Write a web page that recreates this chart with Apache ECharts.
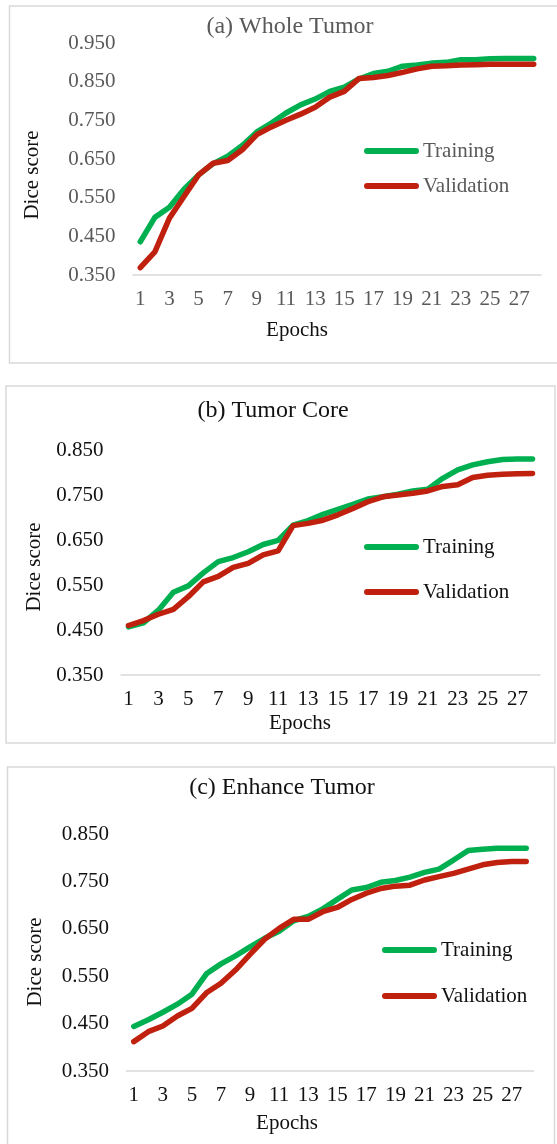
<!DOCTYPE html>
<html>
<head>
<meta charset="utf-8">
<script src="https://cdn.jsdelivr.net/npm/echarts@6/dist/echarts.min.js"></script>
<style>
  html, body { margin: 0; padding: 0; background: #fff; }
  #main { width: 557px; height: 1144px; }
</style>
</head>
<body>
<div id="main"></div>
<script>
// epochs 1..28
var epochs = ['1','2','3','4','5','6','7','8','9','10','11','12','13','14','15','16','17','18','19','20','21','22','23','24','25','26','27','28'];

// (a) Whole Tumor
var wtTrain = [0.436,0.499,0.525,0.572,0.609,0.638,0.657,0.685,0.720,0.743,0.769,0.790,0.805,0.825,0.836,0.857,0.871,0.877,0.890,0.893,0.898,0.900,0.907,0.907,0.909,0.910,0.910,0.910];
var wtVal   = [0.369,0.410,0.497,0.553,0.609,0.639,0.646,0.674,0.713,0.733,0.750,0.766,0.784,0.810,0.825,0.858,0.861,0.866,0.874,0.883,0.890,0.891,0.893,0.894,0.895,0.895,0.895,0.895];

// (b) Tumor Core
var tcTrain = [0.457,0.466,0.494,0.534,0.548,0.577,0.602,0.611,0.624,0.640,0.649,0.683,0.693,0.707,0.718,0.729,0.741,0.746,0.752,0.759,0.763,0.787,0.806,0.817,0.824,0.829,0.830,0.830];
var tcVal   = [0.460,0.471,0.485,0.496,0.524,0.557,0.569,0.589,0.598,0.617,0.626,0.682,0.687,0.694,0.706,0.720,0.735,0.746,0.750,0.754,0.759,0.769,0.773,0.789,0.794,0.796,0.797,0.798];

// (c) Enhance Tumor
var etTrain = [0.444,0.458,0.474,0.491,0.512,0.555,0.576,0.593,0.612,0.630,0.645,0.667,0.676,0.692,0.712,0.732,0.737,0.748,0.752,0.759,0.769,0.776,0.795,0.815,0.818,0.820,0.820,0.820];
var etVal   = [0.412,0.433,0.445,0.466,0.482,0.515,0.535,0.563,0.596,0.628,0.651,0.670,0.670,0.686,0.695,0.712,0.725,0.735,0.740,0.742,0.753,0.760,0.767,0.776,0.785,0.790,0.792,0.792];

var titles = ['(a) Whole Tumor', '(b) Tumor Core', '(c) Enhance Tumor'];
var yMax = [0.95, 0.85, 0.85];

var FONT = "'Liberation Serif','Times New Roman',serif";
var GREEN = '#00b050', RED = '#c0200e';

// layout of the three panels
var panels = [
    {grid:{left:133, top:43, width:408, height:232}, txt:'#595959', box:[9.5,6,560,357],
     title:[290,27], xname:[297,330], yname:[32,175], leg:[364,151,186]},
    {grid:{left:121, top:450, width:419, height:225}, txt:'#111', box:[6,386,549,357],
     title:[273,411], xname:[300,723], yname:[34,567], leg:[364,547,592]},
    {grid:{left:126.5, top:834, width:407, height:237}, txt:'#111', box:[7.5,767,547,400],
     title:[282,788], xname:[287,1123], yname:[35,962], leg:[382,950,996]}
];
var trainData = [wtTrain, tcTrain, etTrain];
var valData = [wtVal, tcVal, etVal];

var myChart = echarts.init(document.getElementById('main'));

var grids = [], xAxes = [], yAxes = [], series = [], legends = [], graphics = [];
var legIcon = 'path://M3,0 L52,0 A3,3 0 0 1 52,6 L3,6 A3,3 0 0 1 3,0 Z';

panels.forEach(function (p, i) {
    grids.push(p.grid);
    xAxes.push({
        type: 'category', gridIndex: i, data: epochs, boundaryGap: true,
        axisLine: {lineStyle: {color: '#d9d9d9', width: 1.5}},
        axisTick: {show: false},
        axisLabel: {interval: 1, margin: 14, color: p.txt, fontSize: 21, fontFamily: FONT}
    });
    yAxes.push({
        type: 'value', gridIndex: i, min: 0.35, max: yMax[i], interval: 0.1,
        axisLine: {show: false}, axisTick: {show: false}, splitLine: {show: false},
        axisLabel: {margin: 17.5, color: p.txt, fontSize: 21, fontFamily: FONT,
            formatter: function (v) { return v.toFixed(3); }}
    });
    series.push({
        name: 'Training', type: 'line', xAxisIndex: i, yAxisIndex: i, data: trainData[i],
        symbol: 'none', z: 2,
        lineStyle: {color: GREEN, width: 5.5, cap: 'round', join: 'round'}, itemStyle: {color: GREEN}
    });
    series.push({
        name: 'Validation', type: 'line', xAxisIndex: i, yAxisIndex: i, data: valData[i],
        symbol: 'none', z: 3,
        lineStyle: {color: RED, width: 5.5, cap: 'round', join: 'round'}, itemStyle: {color: RED}
    });
    ['Training', 'Validation'].forEach(function (nm, k) {
        legends.push({
            data: [{name: nm, icon: legIcon, itemStyle: {color: k === 0 ? GREEN : RED}}],
            left: p.leg[0], top: p.leg[k + 1] - 10.5, padding: 0,
            itemWidth: 55, itemHeight: 6, selectedMode: false,
            textStyle: {fontSize: 21, lineHeight: 21, fontFamily: FONT, color: p.txt, padding: [0, 0, 0, -1]}
        });
    });
    graphics.push({
        type: 'rect', silent: true, z: -1,
        shape: {x: p.box[0], y: p.box[1], width: p.box[2], height: p.box[3]},
        style: {fill: 'none', stroke: '#d9d9d9', lineWidth: 1.5}
    });
    graphics.push({
        type: 'text', x: p.title[0], y: p.title[1],
        style: {text: titles[i], font: '24px ' + FONT, fill: p.txt, textAlign: 'center', textVerticalAlign: 'middle'}
    });
    graphics.push({
        type: 'text', x: p.xname[0], y: p.xname[1],
        style: {text: 'Epochs', font: '21px ' + FONT, fill: '#111', textAlign: 'center', textVerticalAlign: 'middle'}
    });
    graphics.push({
        type: 'text', x: p.yname[0], y: p.yname[1], rotation: Math.PI / 2,
        style: {text: 'Dice score', font: '21px ' + FONT, fill: '#111', textAlign: 'center', textVerticalAlign: 'middle'}
    });
});

var option = {
    animation: false,
    grid: grids,
    xAxis: xAxes,
    yAxis: yAxes,
    legend: legends,
    series: series,
    graphic: graphics
};
myChart.setOption(option);
</script>
</body>
</html>
